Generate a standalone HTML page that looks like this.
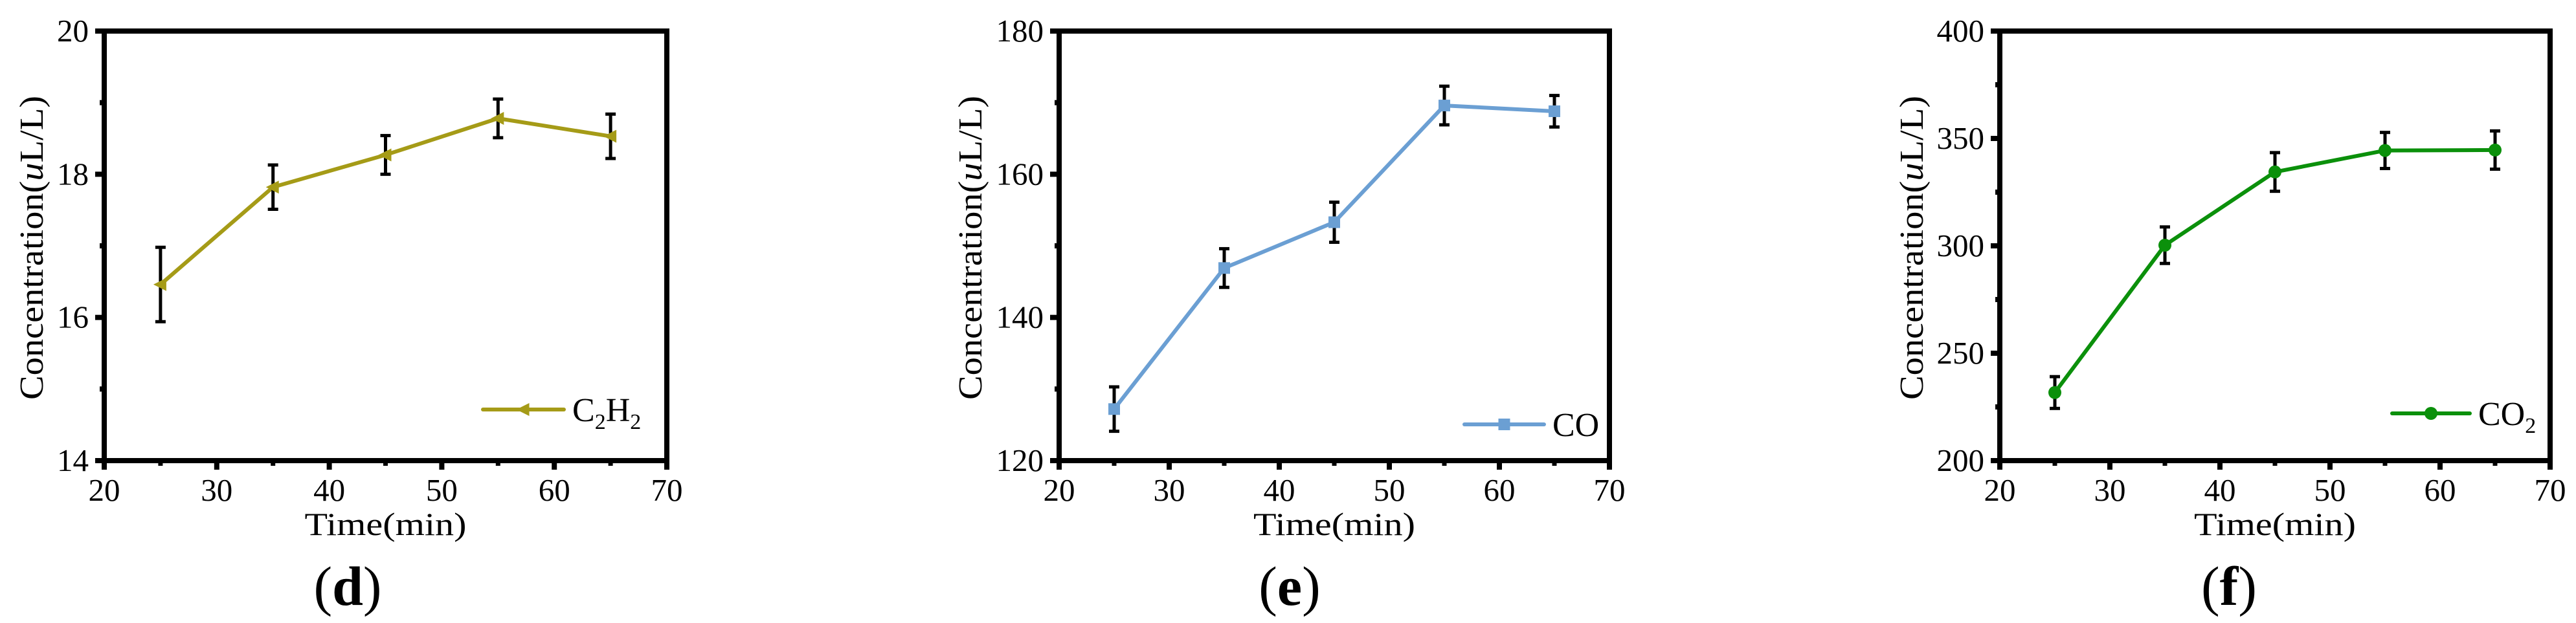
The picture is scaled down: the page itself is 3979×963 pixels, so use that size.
<!DOCTYPE html>
<html><head><meta charset="utf-8"><style>
html,body{margin:0;padding:0;background:#fff;}
svg{display:block;}
text{font-family:"Liberation Serif","Times New Roman",serif;fill:#000;}
</style></head><body>
<svg id="fig" width="3979" height="963" viewBox="0 0 3979 963" xmlns="http://www.w3.org/2000/svg"></svg>
<script>
const times = [25, 35, 45, 55, 65];
const xTicks = [20, 30, 40, 50, 60, 70];
const c2h2Values = [16.46, 17.82, 18.27, 18.78, 18.53];
const c2h2Errors = [0.52, 0.31, 0.27, 0.27, 0.31];
const c2h2Ticks = [14, 16, 18, 20];
const coValues = [127.2, 146.9, 153.3, 169.6, 168.8];
const coErrors = [3.1, 2.7, 2.8, 2.7, 2.2];
const coTicks = [120, 140, 160, 180];
const co2Values = [231.7, 300.3, 334.4, 344.4, 344.6];
const co2Errors = [7.4, 8.5, 9.0, 8.4, 8.9];
const co2Ticks = [200, 250, 300, 350, 400];

const NS = 'http://www.w3.org/2000/svg';
const svg = document.getElementById('fig');
function mk(tag, attrs, parent){
  const e = document.createElementNS(NS, tag);
  for (const k in attrs) e.setAttribute(k, attrs[k]);
  (parent||svg).appendChild(e);
  return e;
}

function panel(cfg){
  const g = mk('g', {});
  
  
  const L=cfg.left, R=cfg.right, T=48, B=712;
  const xs = v => L + (v-20)/(70-20)*(R-L);
  const ymin=cfg.yTicks[0], ymax=cfg.yTicks[cfg.yTicks.length-1];
  const ys = v => B - (v-ymin)/(ymax-ymin)*(B-T);

  // frame
  const fr = mk('rect', {x:L, y:T, width:R-L, height:B-T, fill:'none', stroke:'#000', 'stroke-width':8}, g);
  
  

  // y ticks
  cfg.yTicks.forEach((v,i)=>{
    const y=ys(v);
    const t = mk('line', {x1:L-14, x2:L, y1:y, y2:y, stroke:'#000', 'stroke-width':8}, g);
    
    
    const lb = mk('text', {x:L-24, y:y+16, 'text-anchor':'end', 'font-size':49}, g);
    lb.textContent = v;
    
    
    if (i < cfg.yTicks.length-1){
      const ym = ys((v + cfg.yTicks[i+1])/2);
      const m = mk('line', {x1:L-7, x2:L, y1:ym, y2:ym, stroke:'#000', 'stroke-width':8}, g);
      
      
    }
  });
  // x ticks
  xTicks.forEach((v,i)=>{
    const x=xs(v);
    const t = mk('line', {x1:x, x2:x, y1:B, y2:B+14, stroke:'#000', 'stroke-width':8}, g);
    
    
    const lb = mk('text', {x:x, y:B+62, 'text-anchor':'middle', 'font-size':49}, g);
    lb.textContent = v;
    
    
    if (i < xTicks.length-1){
      const xm = xs((v + xTicks[i+1])/2);
      const m = mk('line', {x1:xm, x2:xm, y1:B, y2:B+8, stroke:'#000', 'stroke-width':7}, g);
      
      
    }
  });

  // axis titles
  const xt = mk('text', {x:(L+R)/2, y:827, 'text-anchor':'middle', 'font-size':50, textLength:250, lengthAdjust:'spacingAndGlyphs'}, g);
  xt.textContent = 'Time(min)';
  
  
  const yt = mk('text', {x:0, y:0, 'text-anchor':'middle', 'font-size':52, textLength:470, lengthAdjust:'spacingAndGlyphs', transform:`translate(${cfg.ytX},383) rotate(-90)`}, g);
  yt.innerHTML = 'Concentration(<tspan font-style="italic">u</tspan>L/L)';
  
  

  // series line
  const pts = times.map((t,i)=>xs(t)+','+ys(cfg.values[i])).join(' ');
  const pl = mk('polyline', {points:pts, fill:'none', stroke:cfg.color, 'stroke-width':6, 'stroke-linejoin':'round'}, g);
  
  

  // error bars
  times.forEach((t,i)=>{
    const x=xs(t), y1=ys(cfg.values[i]+cfg.errors[i]), y2=ys(cfg.values[i]-cfg.errors[i]);
    const eg = mk('g', {stroke:'#000', 'stroke-width':5}, g);
    
    
    mk('line', {x1:x, x2:x, y1:y1, y2:y2}, eg);
    mk('line', {x1:x-8, x2:x+8, y1:y1, y2:y1}, eg);
    mk('line', {x1:x-8, x2:x+8, y1:y2, y2:y2}, eg);
  });
  // markers
  times.forEach((t,i)=>{
    const m = drawMarker(g, cfg.marker, xs(t), ys(cfg.values[i]), cfg.color);
    
    
  });

  // legend
  const lg = mk('g', {}, g);
  
  
  mk('line', {x1:cfg.lgX1, x2:cfg.lgX2, y1:cfg.lgY, y2:cfg.lgY, stroke:cfg.color, 'stroke-width':6, 'stroke-linecap':'round'}, lg);
  drawMarker(lg, cfg.marker, (cfg.lgX1+cfg.lgX2)/2, cfg.lgY, cfg.color);
  const lt = mk('text', {x:cfg.lgX2+13, y:cfg.lgY+18, 'font-size':52}, lg);
  lt.innerHTML = cfg.label;

  // panel label
  const pl2 = mk('text', {x:cfg.tagX, y:935, 'text-anchor':'middle', 'font-size':86}, g);
  pl2.innerHTML = '(<tspan font-weight="bold">'+cfg.tag+'</tspan>)';
  
  
}

function drawMarker(g, type, x, y, c){
  if (type==='tri') return mk('polygon', {points:`${x-11},${y} ${x+9},${y-10} ${x+9},${y+10}`, fill:c}, g);
  if (type==='sq') return mk('rect', {x:x-9, y:y-9, width:18, height:18, fill:c}, g);
  return mk('circle', {cx:x, cy:y, r:10, fill:c}, g);
}

panel({name:'panel-d-c2h2', left:161, right:1030, yTicks:c2h2Ticks, values:c2h2Values, errors:c2h2Errors,
  color:'#a59b17', marker:'tri', ytX:66, lgX1:746, lgX2:871, lgY:633, label:'C<tspan font-size="34" dy="12">2</tspan><tspan dy="-12">H</tspan><tspan font-size="34" dy="12">2</tspan>', tag:'d', tagX:537});
panel({name:'panel-e-co', left:1636, right:2486, yTicks:coTicks, values:coValues, errors:coErrors,
  color:'#6b9fd3', marker:'sq', ytX:1516, lgX1:2262, lgX2:2385, lgY:656, label:'CO', tag:'e', tagX:1992});
panel({name:'panel-f-co2', left:3089, right:3939, yTicks:co2Ticks, values:co2Values, errors:co2Errors,
  color:'#0b900b', marker:'circle', ytX:2970, lgX1:3695, lgX2:3815, lgY:639, label:'CO<tspan font-size="34" dy="12">2</tspan>', tag:'f', tagX:3443});
</script>
</body></html>
